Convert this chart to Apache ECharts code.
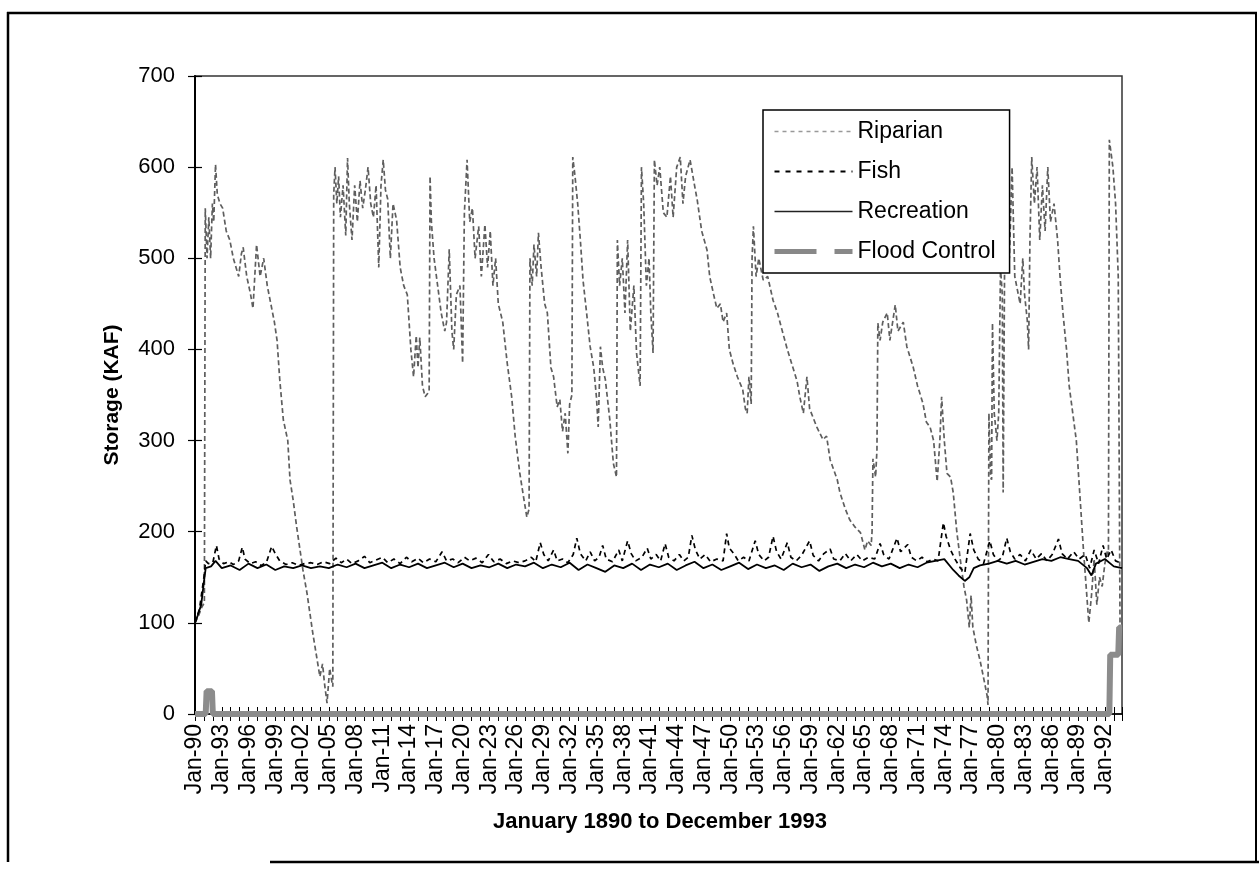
<!DOCTYPE html>
<html>
<head>
<meta charset="utf-8">
<script src="https://cdn.jsdelivr.net/npm/echarts@6/dist/echarts.min.js"></script>
<style>html,body{margin:0;padding:0;background:#fff}#c{width:1259px;height:874px}</style>
</head>
<body>
<div id="c"></div>
<script>
// ---- data (x = decimal year, y = storage KAF) ----
const TICK_LABELS = ['Jan-90','Jan-93','Jan-96','Jan-99','Jan-02','Jan-05','Jan-08','Jan-11','Jan-14','Jan-17','Jan-20','Jan-23','Jan-26','Jan-29','Jan-32','Jan-35','Jan-38','Jan-41','Jan-44','Jan-47','Jan-50','Jan-53','Jan-56','Jan-59','Jan-62','Jan-65','Jan-68','Jan-71','Jan-74','Jan-77','Jan-80','Jan-83','Jan-86','Jan-89','Jan-92'];
const SERIES_NAMES = ['Riparian','Fish','Recreation','Flood Control'];

const RIPARIAN = [
[1890.0,100],[1890.4,108],[1890.8,118],[1891.05,122],[1891.15,555],[1891.35,500],[1891.55,545],[1891.75,500],[1891.95,560],[1892.1,540],[1892.3,603],[1892.5,570],[1892.8,560],[1893.1,555],[1893.5,530],[1893.9,520],[1894.3,500],[1894.6,490],[1894.9,480],[1895.2,505],[1895.4,512],[1895.8,480],[1896.2,462],[1896.5,445],[1896.9,515],[1897.3,480],[1897.7,500],[1898.1,470],[1898.5,450],[1898.9,430],[1899.2,410],[1899.5,367],[1899.9,323],[1900.4,300],[1900.65,257],[1901.0,235],[1901.4,205],[1902.1,158],[1902.55,133],[1903.2,89],[1903.7,59],[1904.0,41],[1904.3,55],[1904.5,35],[1904.8,12],[1905.1,50],[1905.35,35],[1905.45,30],[1905.55,570],
[1905.7,600],[1905.9,560],[1906.1,590],[1906.3,545],[1906.6,580],[1906.9,525],[1907.1,610],[1907.3,560],[1907.6,520],[1907.9,580],[1908.2,540],[1908.5,585],[1908.8,555],[1909.1,575],[1909.4,600],[1909.7,560],[1910.0,545],[1910.3,580],[1910.6,490],[1910.85,580],[1911.1,608],[1911.35,575],[1911.6,565],[1911.9,500],[1912.2,560],[1912.6,542],[1913.0,490],[1913.4,470],[1913.8,460],[1914.2,400],[1914.5,370],[1914.8,415],[1915.0,380],[1915.2,413],[1915.5,360],[1915.8,348],[1916.1,352],[1916.25,355],[1916.35,590],[1916.5,540],[1916.8,500],[1917.2,470],[1917.6,440],[1918.0,420],[1918.2,430],[1918.5,510],[1918.8,420],[1919.0,400],[1919.3,460],[1919.7,470],[1920.0,385],[1920.2,550],[1920.5,608],[1920.8,540],[1921.1,555],[1921.4,500],[1921.8,535],[1922.1,480],[1922.5,537],[1922.8,490],[1923.1,530],[1923.4,470],[1923.7,500],[1924.0,450],[1924.5,430],[1925.0,385],[1925.5,348],[1925.9,304],[1926.4,265],[1926.8,240],[1927.2,216],[1927.45,225],[1927.55,500],[1927.8,470],[1928.0,515],[1928.3,480],[1928.5,528],[1928.8,490],[1929.2,450],[1929.5,440],[1929.9,380],[1930.2,370],[1930.6,337],[1930.9,345],[1931.2,310],[1931.5,330],[1931.8,286],[1932.0,340],[1932.25,350],[1932.35,611],[1932.6,590],[1932.9,560],[1933.2,520],[1933.5,476],[1933.9,440],[1934.3,403],[1934.7,380],[1935.0,348],[1935.2,315],[1935.45,403],[1935.7,380],[1936.0,367],[1936.5,323],[1936.9,275],[1937.25,260],[1937.35,520],[1937.6,470],[1937.9,500],[1938.2,440],[1938.5,520],[1938.8,420],[1939.2,470],[1939.5,396],[1939.9,360],[1940.05,600],[1940.3,560],[1940.6,470],[1940.9,500],[1941.1,440],[1941.35,396],[1941.5,608],[1941.8,580],[1942.1,600],[1942.5,550],[1942.9,545],[1943.3,590],[1943.6,545],[1944.0,600],[1944.4,611],[1944.7,560],[1945.0,590],[1945.5,608],[1946.0,580],[1946.3,564],[1946.8,530],[1947.4,509],[1947.7,480],[1948.1,462],[1948.5,445],[1948.9,450],[1949.2,430],[1949.6,440],[1949.9,400],[1950.3,385],[1950.8,370],[1951.4,356],[1951.7,335],[1951.9,330],[1952.1,370],[1952.35,340],[1952.45,500],[1952.6,535],[1952.9,480],[1953.2,500],[1953.7,476],[1954.2,480],[1954.8,454],[1955.3,440],[1955.9,418],[1956.4,400],[1957.0,381],[1957.5,365],[1957.8,348],[1958.2,330],[1958.6,370],[1958.9,335],[1959.7,315],[1960.4,301],[1960.8,305],[1961.2,279],[1962.0,257],[1962.3,243],[1962.9,225],[1963.4,213],[1964.0,205],[1964.6,199],[1965.1,180],[1965.4,190],[1965.8,185],[1965.9,200],[1966.0,280],[1966.3,260],[1966.45,290],[1966.55,429],[1966.8,410],[1967.1,430],[1967.6,440],[1967.9,410],[1968.5,449],[1968.8,420],[1969.0,421],[1969.4,430],[1969.8,403],[1970.5,381],[1971.0,360],[1971.6,341],[1972.0,320],[1972.4,315],[1972.8,300],[1973.2,255],[1973.5,300],[1973.7,348],[1974.0,300],[1974.3,264],[1974.7,260],[1975.0,243],[1975.4,200],[1975.8,169],[1976.2,140],[1976.5,125],[1976.8,95],[1977.0,130],[1977.2,95],[1977.6,75],[1978.0,59],[1978.4,40],[1978.8,20],[1978.9,10],[1979.0,330],[1979.2,260],[1979.3,257],[1979.4,429],[1979.6,330],[1979.9,300],[1980.1,330],[1980.3,490],[1980.5,460],[1980.6,243],[1980.75,480],[1981.0,560],[1981.3,500],[1981.6,600],[1981.9,480],[1982.2,465],[1982.5,450],[1982.8,500],[1983.0,460],[1983.3,432],[1983.45,400],[1983.6,520],[1983.8,611],[1984.1,560],[1984.4,600],[1984.7,520],[1985.0,580],[1985.3,530],[1985.6,600],[1985.9,540],[1986.3,560],[1986.7,520],[1987.0,476],[1987.3,440],[1987.7,400],[1988.0,360],[1988.4,330],[1988.8,300],[1989.2,240],[1989.6,180],[1989.9,140],[1990.2,100],[1990.5,130],[1990.8,170],[1991.1,120],[1991.4,150],[1991.7,140],[1992.0,165],[1992.3,180],[1992.4,175],[1992.5,630],[1992.9,600],[1993.2,560],[1993.5,480],[1993.7,95],[1993.92,90]
];

const FISH = [
[1890.0,100],[1890.5,115],[1891.0,150],[1891.2,168],[1891.5,165],[1892.0,166],[1892.4,185],[1892.7,170],[1893.2,165],[1893.8,167],[1894.3,164],[1894.9,168],[1895.3,183],[1895.6,170],[1896.2,165],[1896.8,167],[1897.4,163],[1898.0,166],[1898.6,184],[1899.0,176],[1899.5,168],[1900.2,164],[1900.9,166],[1901.6,163],[1902.3,165],[1903.0,166],[1903.7,164],[1904.4,167],[1905.1,165],[1905.8,171],[1906.4,166],[1907.0,170],[1907.6,165],[1908.3,168],[1909.0,173],[1909.6,166],[1910.3,169],[1911.0,172],[1911.6,166],[1912.3,170],[1913.0,165],[1913.7,172],[1914.3,167],[1915.0,171],[1915.6,166],[1916.3,170],[1917.0,167],[1917.7,178],[1918.2,168],[1918.9,170],[1919.5,166],[1920.2,172],[1920.8,168],[1921.5,171],[1922.2,166],[1922.9,175],[1923.5,167],[1924.2,170],[1924.9,165],[1925.6,168],[1926.3,166],[1927.0,168],[1927.7,172],[1928.2,167],[1928.7,188],[1929.1,175],[1929.6,168],[1930.2,180],[1930.6,168],[1931.2,170],[1931.8,166],[1932.4,175],[1932.8,193],[1933.2,176],[1933.8,168],[1934.3,178],[1934.8,168],[1935.3,172],[1935.7,185],[1936.1,170],[1936.8,167],[1937.5,180],[1937.9,168],[1938.5,190],[1938.9,176],[1939.4,168],[1940.1,172],[1940.7,182],[1941.1,170],[1941.7,175],[1942.2,168],[1942.7,187],[1943.1,172],[1943.7,168],[1944.3,175],[1944.8,168],[1945.3,172],[1945.7,196],[1946.1,180],[1946.6,170],[1947.2,175],[1947.8,167],[1948.5,170],[1949.2,168],[1949.6,198],[1949.9,182],[1950.4,176],[1950.9,168],[1951.5,172],[1952.1,168],[1952.8,190],[1953.2,175],[1953.8,168],[1954.3,172],[1954.8,195],[1955.2,178],[1955.7,170],[1956.4,188],[1956.8,172],[1957.4,168],[1958.0,174],[1958.9,190],[1959.3,174],[1959.9,168],[1960.5,176],[1961.2,181],[1961.6,170],[1962.3,168],[1962.9,176],[1963.5,168],[1964.2,175],[1964.8,168],[1965.5,172],[1966.2,170],[1966.8,187],[1967.2,175],[1967.8,170],[1968.7,193],[1969.1,178],[1969.9,186],[1970.3,172],[1970.9,168],[1971.5,172],[1972.1,167],[1972.7,170],[1973.3,168],[1973.9,210],[1974.2,195],[1974.7,180],[1975.2,170],[1975.8,160],[1976.3,155],[1976.9,198],[1977.3,180],[1977.8,170],[1978.4,165],[1979.1,190],[1979.5,175],[1980.0,168],[1980.5,172],[1981.0,193],[1981.4,178],[1981.9,170],[1982.5,175],[1983.1,168],[1983.7,180],[1984.3,170],[1984.9,176],[1985.5,168],[1986.1,175],[1986.8,192],[1987.2,176],[1987.8,170],[1988.5,178],[1989.1,170],[1989.8,175],[1990.3,160],[1990.8,180],[1991.3,165],[1991.8,185],[1992.2,170],[1992.7,180],[1993.2,168],[1993.92,165]
];

const RECREATION = [
[1890.0,100],[1890.3,108],[1890.7,120],[1891.0,145],[1891.2,160],[1891.8,162],[1892.3,168],[1893.0,160],[1894.0,163],[1895.0,158],[1896.0,165],[1897.0,160],[1898.0,164],[1899.0,158],[1900.0,162],[1901.0,160],[1902.0,163],[1903.0,160],[1904.0,162],[1905.0,160],[1906.0,164],[1907.0,161],[1908.0,165],[1909.0,160],[1910.0,163],[1911.0,166],[1912.0,160],[1913.0,164],[1914.0,161],[1915.0,165],[1916.0,160],[1917.0,163],[1918.0,166],[1919.0,161],[1920.0,165],[1921.0,160],[1922.0,163],[1923.0,161],[1924.0,165],[1925.0,160],[1926.0,164],[1927.0,162],[1928.0,166],[1929.0,160],[1930.0,164],[1931.0,161],[1932.0,166],[1933.0,158],[1934.0,164],[1935.0,160],[1936.0,156],[1937.0,163],[1938.0,160],[1939.0,165],[1940.0,158],[1941.0,164],[1942.0,161],[1943.0,165],[1944.0,158],[1945.0,163],[1946.0,167],[1947.0,160],[1948.0,164],[1949.0,158],[1950.0,162],[1951.0,166],[1952.0,159],[1953.0,164],[1954.0,160],[1955.0,163],[1956.0,158],[1957.0,165],[1958.0,161],[1959.0,164],[1960.0,157],[1961.0,162],[1962.0,165],[1963.0,160],[1964.0,164],[1965.0,161],[1966.0,166],[1967.0,162],[1968.0,165],[1969.0,160],[1970.0,164],[1971.0,161],[1972.0,166],[1973.0,168],[1974.0,170],[1975.0,158],[1975.6,152],[1976.3,146],[1976.8,150],[1977.3,160],[1978.0,163],[1979.0,165],[1980.0,168],[1981.0,165],[1982.0,168],[1983.0,164],[1984.0,167],[1985.0,170],[1986.0,168],[1987.0,172],[1988.0,170],[1989.0,168],[1990.0,160],[1990.5,152],[1991.0,165],[1992.0,170],[1993.0,162],[1993.92,160]
];

const FLOOD_CONTROL = [
[1890.0,0],[1891.2,0],[1891.3,25],[1891.9,25],[1892.0,0],[1992.5,0],[1992.6,65],[1993.5,65],[1993.6,95],[1993.92,95]
];

// ---- chart ----
const FONT = 'Liberation Sans, Arial, Helvetica, sans-serif';
const chart = echarts.init(document.getElementById('c'), null, {renderer: 'canvas'});

const xBase = {
  type: 'value', min: 1890, max: 1993.92, interval: 1,
  gridIndex: 0, position: 'bottom',
  splitLine: {show: false}
};
const yBase = {
  type: 'value', min: 0, max: 700, interval: 100,
  gridIndex: 0, position: 'left',
  splitLine: {show: false}
};
const HIDDEN_SYMBOL = {color: 'rgba(0,0,0,0)', borderColor: 'rgba(0,0,0,0)', borderWidth: 0, opacity: 0};

chart.setOption({
  animation: false,
  backgroundColor: '#fff',
  textStyle: {fontFamily: FONT, color: '#000'},
  grid: {left: 195, right: 137, top: 76, bottom: 160, show: true, borderColor: '#333', borderWidth: 1.5, backgroundColor: 'transparent'},
  xAxis: [
    Object.assign({}, xBase, {
      axisLine: {show: true, onZero: false, lineStyle: {color: '#000', width: 1.5}},
      axisTick: {show: true, inside: false, length: 7, lineStyle: {color: '#000', width: 1}},
      axisLabel: {
        show: true, rotate: 90, margin: 10, fontSize: 23, color: '#000', fontFamily: FONT,
        showMinLabel: true, showMaxLabel: true,
        formatter: function (v) {
          const d = v - 1890, i = Math.round(d);
          if (Math.abs(d - i) > 1e-6 || i % 3 !== 0) return '';
          return TICK_LABELS[i / 3] || '';
        }
      }
    }),
    Object.assign({}, xBase, {
      axisLine: {show: false, onZero: false},
      axisTick: {show: true, inside: true, length: 7, lineStyle: {color: '#000', width: 1}},
      axisLabel: {show: false}
    })
  ],
  yAxis: [
    Object.assign({}, yBase, {
      axisLine: {show: true, onZero: false, lineStyle: {color: '#000', width: 2}},
      axisTick: {show: true, inside: false, length: 7, lineStyle: {color: '#000', width: 1.2}},
      axisLabel: {show: true, margin: 20, fontSize: 22, color: '#000', fontFamily: FONT}
    }),
    Object.assign({}, yBase, {
      axisLine: {show: false, onZero: false},
      axisTick: {show: true, inside: true, length: 7, lineStyle: {color: '#000', width: 1.2}},
      axisLabel: {show: false}
    })
  ],
  legend: {
    orient: 'vertical', left: 763, top: 110,
    padding: [10, 14, 10, 9],
    itemWidth: 78, itemHeight: 14, itemGap: 17,
    backgroundColor: '#fff', borderColor: '#000', borderWidth: 1.5,
    textStyle: {fontSize: 23, color: '#000', fontFamily: FONT},
    itemStyle: HIDDEN_SYMBOL,
    data: [
      {name: SERIES_NAMES[0], itemStyle: HIDDEN_SYMBOL, lineStyle: {type: [4, 4], color: '#999', width: 1.5}},
      {name: SERIES_NAMES[1], itemStyle: HIDDEN_SYMBOL, lineStyle: {type: [5, 6], color: '#000', width: 2}},
      {name: SERIES_NAMES[2], itemStyle: HIDDEN_SYMBOL, lineStyle: {type: 'solid', color: '#222', width: 1.5}},
      {name: SERIES_NAMES[3], itemStyle: HIDDEN_SYMBOL, lineStyle: {type: [42, 18], color: '#888', width: 5}}
    ],
    z: 10
  },
  series: [
    {
      name: SERIES_NAMES[3], type: 'line', data: FLOOD_CONTROL, symbol: 'none',
      clip: false, z: 4,
      itemStyle: {color: '#8c8c8c'},
      lineStyle: {color: '#8c8c8c', width: 6, type: 'solid'}
    },
    {
      name: SERIES_NAMES[0], type: 'line', data: RIPARIAN, symbol: 'none',
      z: 3,
      itemStyle: {color: '#5e5e5e'},
      lineStyle: {color: '#5e5e5e', width: 1.7, type: [5, 3]}
    },
    {
      name: SERIES_NAMES[2], type: 'line', data: RECREATION, symbol: 'none',
      z: 5,
      itemStyle: {color: '#000'},
      lineStyle: {color: '#000', width: 1.8, type: 'solid'}
    },
    {
      name: SERIES_NAMES[1], type: 'line', data: FISH, symbol: 'none',
      z: 6,
      itemStyle: {color: '#000'},
      lineStyle: {color: '#000', width: 1.7, type: [5, 4]}
    }
  ],
  graphic: [
    {type: 'text', x: 660, y: 822, style: {text: 'January 1890 to December 1993', x: 0, y: 0, align: 'center', verticalAlign: 'middle', font: 'bold 22px ' + FONT, fill: '#000'}},
    {type: 'text', x: 112, y: 395, rotation: Math.PI / 2, style: {text: 'Storage (KAF)', x: 0, y: 0, align: 'center', verticalAlign: 'middle', font: 'bold 21px ' + FONT, fill: '#000'}},
    {type: 'line', shape: {x1: 7, y1: 13, x2: 1257, y2: 13}, style: {stroke: '#000', lineWidth: 2.5}},
    {type: 'line', shape: {x1: 8, y1: 12, x2: 8, y2: 862}, style: {stroke: '#000', lineWidth: 2.5}},
    {type: 'line', shape: {x1: 1256, y1: 12, x2: 1256, y2: 862}, style: {stroke: '#000', lineWidth: 2}},
    {type: 'line', shape: {x1: 270, y1: 862, x2: 1259, y2: 862}, style: {stroke: '#000', lineWidth: 2.5}}
  ]
});
</script>
</body>
</html>
